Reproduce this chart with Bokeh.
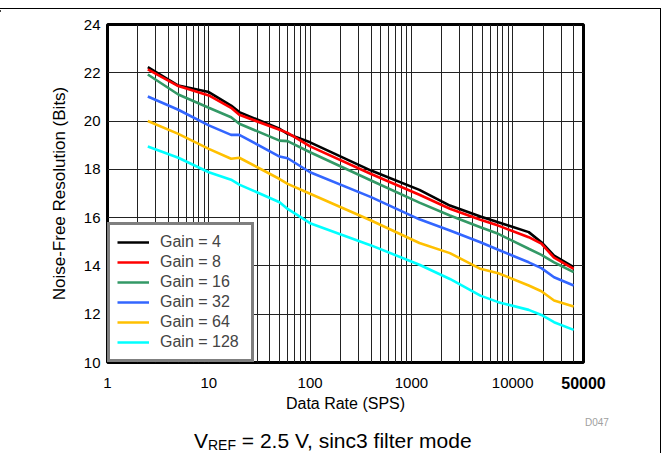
from bokeh.plotting import figure
from bokeh.layouts import column
from bokeh.models import FixedTicker, Legend, LegendItem, LogAxis, Div
from bokeh.embed import file_html
from bokeh.resources import INLINE

# ---- data ----
rates = [2.5, 5, 10, 16.6, 20, 50, 60, 100, 400, 1200, 2400, 4800, 7200, 14400, 19200, 25600, 40000]
gain4 = [22.23, 21.47, 21.2, 20.64, 20.37, 19.68, 19.47, 19.12, 17.95, 17.15, 16.50, 16.05, 15.81, 15.40, 14.98, 14.43, 13.95]
gain8 = [22.14, 21.45, 21.06, 20.55, 20.26, 19.64, 19.51, 18.95, 17.81, 16.95, 16.37, 15.91, 15.67, 15.19, 14.92, 14.34, 13.88]
gain16 = [21.93, 21.1, 20.55, 20.16, 19.89, 19.19, 19.17, 18.71, 17.54, 16.62, 16.09, 15.6, 15.33, 14.71, 14.46, 14.15, 13.74]
gain32 = [21.02, 20.47, 19.82, 19.43, 19.43, 18.53, 18.46, 17.88, 16.85, 15.93, 15.47, 14.98, 14.67, 14.15, 13.91, 13.53, 13.19]
gain64 = [20.0, 19.47, 18.85, 18.44, 18.48, 17.6, 17.4, 16.99, 15.88, 14.95, 14.53, 13.88, 13.70, 13.19, 12.95, 12.57, 12.32]
gain128 = [18.95, 18.48, 17.88, 17.57, 17.37, 16.64, 16.36, 15.77, 14.85, 14.05, 13.46, 12.77, 12.5, 12.18, 11.97, 11.67, 11.35]

series_names = ["Gain = 4", "Gain = 8", "Gain = 16", "Gain = 32", "Gain = 64", "Gain = 128"]
series_vals = [gain4, gain8, gain16, gain32, gain64, gain128]
colors = ["#000000", "#FF0000", "#339966", "#3366FF", "#FFC000", "#00FFFF"]

x_major = [1, 10, 100, 1000, 10000]
x_major_labels = ["1", "10", "100", "1000", "10000"]
x_last = [50000]
x_last_label = "50000"
x_minor = [m * d for d in [1, 10, 100, 1000, 10000] for m in range(2, 10) if m * d < 50000]
y_ticks = [10, 12, 14, 16, 18, 20, 22, 24]

x_title = "Data Rate (SPS)"
y_title = "Noise-Free Resolution (Bits)"
caption_main = "V"
caption_sub = "REF"
caption_rest = " = 2.5 V, sinc3 filter mode"
fig_id = "D047"

FONT = "Liberation Sans"
W = 661

# ---- top strip: page frame line ----
top_html = (
    f"<div style=\"position:relative;width:{W}px;height:9px;overflow:visible;\">"
    f"<div style=\"position:absolute;left:0;top:7px;width:{W}px;height:2px;"
    "background:black;\"></div></div>"
)
top = Div(text=top_html, width=W, height=9, margin=0,
          styles={"border-bottom": "1.5px solid black", "box-sizing": "border-box"})

# ---- main chart ----
p = figure(width=W, height=408, x_axis_type="log", x_range=(1, 50000), y_range=(10, 24),
           output_backend="svg", toolbar_location=None,
           min_border_left=107, min_border_right=78, min_border_top=15, min_border_bottom=55)
p.styles = {"border-right": "1.5px solid black"}

renderers = []
for name, vals, c in zip(series_names, series_vals, colors):
    r = p.line(rates, vals, line_color=c, line_width=2.6)
    renderers.append((name, r))

p.xaxis.ticker = FixedTicker(ticks=x_major, minor_ticks=x_minor)
p.xaxis.major_label_overrides = {t: l for t, l in zip(x_major, x_major_labels)}
p.yaxis.ticker = FixedTicker(ticks=y_ticks)
for ax in (p.xaxis[0], p.yaxis[0]):
    ax.axis_line_color = None
    ax.major_tick_line_color = None
    ax.minor_tick_line_color = None
    ax.major_tick_out = 0
    ax.minor_tick_out = 0
    ax.major_label_text_font = FONT
    ax.major_label_text_font_size = "15px"
    ax.major_label_text_color = "black"
    ax.axis_label_text_font = FONT
    ax.axis_label_text_font_style = "normal"
    ax.axis_label_text_color = "black"
p.xaxis.axis_label = x_title
p.yaxis.axis_label = y_title
p.xaxis.axis_label_text_font_size = "16px"
p.yaxis.axis_label_text_font_size = "17px"
p.xaxis.major_label_standoff = 15
p.xaxis.axis_label_standoff = 4
p.yaxis.major_label_standoff = 7
p.yaxis.axis_label_standoff = 12

# second x axis carrying only the bold end label
ax2 = LogAxis(ticker=FixedTicker(ticks=x_last),
              major_label_overrides={x_last[0]: x_last_label},
              axis_line_color=None, major_tick_line_color=None, minor_tick_line_color=None,
              major_tick_out=0, minor_tick_out=0, major_label_standoff=-38,
              major_label_text_font=FONT, major_label_text_font_size="16px",
              major_label_text_font_style="bold", major_label_text_color="black")
p.add_layout(ax2, "below")

for g in (p.xgrid[0], p.ygrid[0]):
    g.grid_line_color = "#222222"
    g.grid_line_width = 1
p.xgrid.minor_grid_line_color = "#222222"
p.xgrid.minor_grid_line_width = 1

p.outline_line_color = "black"
p.outline_line_width = 3
p.outline_line_alpha = 1
p.background_fill_color = "white"
p.border_fill_color = "white"

legend = Legend(items=[LegendItem(label=n, renderers=[r]) for n, r in renderers],
                location="bottom_left", margin=0, padding=7, spacing=0,
                label_height=20, glyph_height=20, glyph_width=32, label_standoff=11,
                label_width=84,
                border_line_color="black", border_line_width=3,
                label_text_font=FONT, label_text_font_size="16px",
                background_fill_alpha=1)
p.add_layout(legend)

# ---- bottom strip: figure id and caption ----
H2 = 36
base = f"position:absolute;white-space:nowrap;line-height:1;font-family:'{FONT}';"
html = (
    f"<div style=\"position:relative;width:{W}px;height:{H2}px;\">"
    f"<div style=\"position:absolute;left:{W - 1.5}px;top:0;width:0;height:{H2}px;"
    "border-left:1.5px solid black;\"></div>"
    f"<span style=\"{base}left:585px;top:1px;font-size:10px;color:#A0A0A0;\">{fig_id}</span>"
    f"<span style=\"{base}left:194px;top:13px;font-size:21px;color:black;\">{caption_main}</span>"
    f"<span style=\"{base}left:208px;top:20.5px;font-size:14px;color:black;\">{caption_sub}</span>"
    f"<span style=\"{base}left:236px;top:13px;font-size:21px;color:black;white-space:pre;\">{caption_rest}</span>"
    "</div>"
)
bottom = Div(text=html, width=W, height=H2, margin=0)

layout = column(top, p, bottom, spacing=0)
open("out.html", "w").write(file_html(layout, INLINE))
